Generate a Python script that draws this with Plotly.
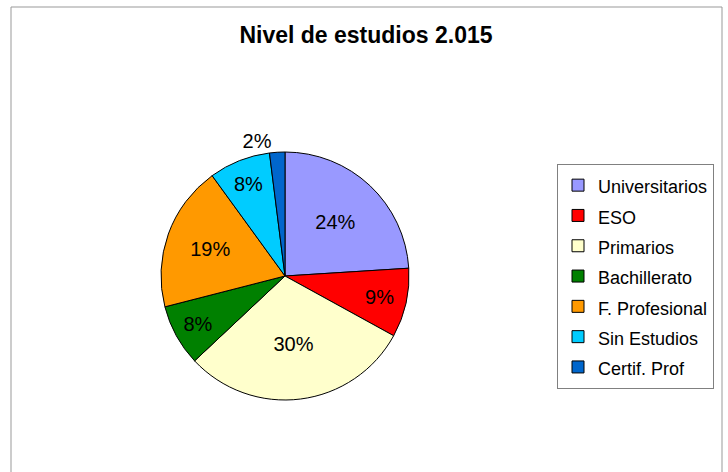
import plotly.graph_objects as go

W, H = 728, 472

title_text = "Nivel de estudios 2.015"
categories = ["Universitarios", "ESO", "Primarios", "Bachillerato",
              "F. Profesional", "Sin Estudios", "Certif. Prof"]
values = [24, 9, 30, 8, 19, 8, 2]
colors = ["#9999FF", "#FF0000", "#FFFFCC", "#008000",
          "#FF9900", "#00CCFF", "#0066CC"]

FONT = "Liberation Sans, Arial, sans-serif"

# pie geometry in pixels
cx, cy, r = 285, 276, 124

textpos = ["inside"] * (len(values) - 1) + ["outside"]
legend_labels = ['<span style="font-size:18px">' + c + '</span>' for c in categories]

fig = go.Figure(go.Pie(
    labels=legend_labels,
    values=values,
    sort=False,
    direction="clockwise",
    rotation=0,
    marker=dict(colors=colors, line=dict(color="#000000", width=1)),
    texttemplate="%{percent:.0%}",
    textposition=textpos,
    insidetextorientation="horizontal",
    textfont=dict(family=FONT, size=20, color="#000000"),
    domain=dict(x=[(cx - r) / W, (cx + r) / W],
                y=[(H - (cy + r)) / H, (H - (cy - r)) / H]),
    hoverinfo="label+percent",
))

fig.update_layout(
    width=W, height=H,
    margin=dict(l=0, r=0, t=0, b=0),
    paper_bgcolor="white",
    plot_bgcolor="white",
    font=dict(family=FONT, color="#000000"),
    title=dict(text="<b>" + title_text + "</b>",
               x=366 / W, xanchor="center",
               y=1 - 35 / H, yanchor="middle",
               font=dict(family=FONT, size=23, color="#000000")),
    showlegend=True,
    legend=dict(
        x=557 / W, xanchor="left",
        y=1 - 164 / H, yanchor="top",
        bgcolor="white",
        bordercolor="#808080", borderwidth=1,
        font=dict(family=FONT, size=21, color="#000000"),
        itemwidth=30,
        tracegroupgap=0,
    ),
    shapes=[dict(type="rect", xref="paper", yref="paper",
                 x0=11 / W, x1=722 / W, y0=-0.1, y1=1 - 7 / H,
                 line=dict(color="#999999", width=1),
                 fillcolor="rgba(0,0,0,0)", layer="below")],
)

fig.write_html("out.html",
               config={"displayModeBar": False},
               post_script="document.body.style.margin='0';document.body.style.padding='0';")
